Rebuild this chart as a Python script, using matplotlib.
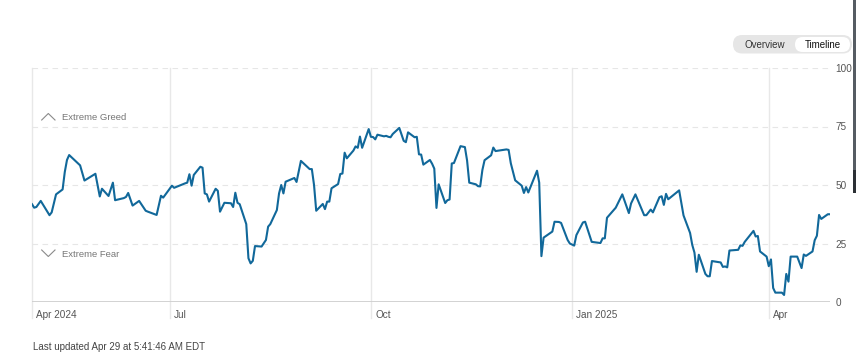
import pandas as pd
import numpy as np
import matplotlib
matplotlib.use('Agg')
import matplotlib.pyplot as plt
import matplotlib.dates as mdates
from matplotlib.patches import FancyBboxPatch, Rectangle
from matplotlib.lines import Line2D
import matplotlib.transforms as mtransforms

plt.rcParams['font.family'] = ['Liberation Sans', 'DejaVu Sans']

# fear & greed index
dates = ['2024-04-29', '2024-04-30', '2024-05-01', '2024-05-03', '2024-05-07', '2024-05-08', '2024-05-10',
         '2024-05-13', '2024-05-14', '2024-05-15', '2024-05-16', '2024-05-21', '2024-05-23', '2024-05-28',
         '2024-05-30', '2024-05-31', '2024-06-03', '2024-06-05', '2024-06-06', '2024-06-10', '2024-06-11',
         '2024-06-12', '2024-06-14', '2024-06-17', '2024-06-20', '2024-06-21', '2024-06-25', '2024-06-27',
         '2024-06-28', '2024-07-02', '2024-07-03', '2024-07-08', '2024-07-09', '2024-07-10', '2024-07-11',
         '2024-07-12', '2024-07-15', '2024-07-16', '2024-07-17', '2024-07-18', '2024-07-19', '2024-07-22',
         '2024-07-23', '2024-07-24', '2024-07-26', '2024-07-29', '2024-07-30', '2024-07-31', '2024-08-01',
         '2024-08-02', '2024-08-05', '2024-08-06', '2024-08-07', '2024-08-08', '2024-08-09', '2024-08-12',
         '2024-08-14', '2024-08-15', '2024-08-16', '2024-08-19', '2024-08-20', '2024-08-21', '2024-08-22',
         '2024-08-23', '2024-08-27', '2024-08-28', '2024-08-30', '2024-09-03', '2024-09-04', '2024-09-05',
         '2024-09-06', '2024-09-09', '2024-09-10', '2024-09-11', '2024-09-12', '2024-09-13', '2024-09-16',
         '2024-09-17', '2024-09-18', '2024-09-19', '2024-09-20', '2024-09-23', '2024-09-24', '2024-09-25',
         '2024-09-26', '2024-09-27', '2024-09-30', '2024-10-01', '2024-10-02', '2024-10-03', '2024-10-04',
         '2024-10-07', '2024-10-08', '2024-10-09', '2024-10-10', '2024-10-11', '2024-10-14', '2024-10-16',
         '2024-10-17', '2024-10-18', '2024-10-21', '2024-10-22', '2024-10-23', '2024-10-24', '2024-10-25',
         '2024-10-28', '2024-10-29', '2024-10-30', '2024-10-31', '2024-11-01', '2024-11-04', '2024-11-05',
         '2024-11-06', '2024-11-07', '2024-11-08', '2024-11-11', '2024-11-13', '2024-11-14', '2024-11-15',
         '2024-11-18', '2024-11-19', '2024-11-20', '2024-11-21', '2024-11-22', '2024-11-25', '2024-11-26',
         '2024-11-27', '2024-12-02', '2024-12-03', '2024-12-04', '2024-12-06', '2024-12-09', '2024-12-10',
         '2024-12-11', '2024-12-12', '2024-12-16', '2024-12-17', '2024-12-18', '2024-12-19', '2024-12-23',
         '2024-12-24', '2024-12-26', '2024-12-27', '2024-12-30', '2024-12-31', '2025-01-02', '2025-01-03',
         '2025-01-06', '2025-01-07', '2025-01-10', '2025-01-14', '2025-01-15', '2025-01-16', '2025-01-17',
         '2025-01-21', '2025-01-24', '2025-01-27', '2025-01-28', '2025-01-30', '2025-02-03', '2025-02-04',
         '2025-02-06', '2025-02-07', '2025-02-10', '2025-02-11', '2025-02-12', '2025-02-13', '2025-02-14',
         '2025-02-19', '2025-02-21', '2025-02-24', '2025-02-25', '2025-02-26', '2025-02-27', '2025-02-28',
         '2025-03-03', '2025-03-04', '2025-03-05', '2025-03-06', '2025-03-10', '2025-03-11', '2025-03-12',
         '2025-03-13', '2025-03-14', '2025-03-17', '2025-03-18', '2025-03-19', '2025-03-20', '2025-03-21',
         '2025-03-25', '2025-03-26', '2025-03-27', '2025-03-28', '2025-03-31', '2025-04-01', '2025-04-02',
         '2025-04-03', '2025-04-04', '2025-04-07', '2025-04-08', '2025-04-09', '2025-04-10', '2025-04-11',
         '2025-04-14', '2025-04-16', '2025-04-17', '2025-04-18', '2025-04-21', '2025-04-22', '2025-04-23',
         '2025-04-24', '2025-04-25', '2025-04-28', '2025-04-29']
index_values = [41.8, 40.3, 40.6, 43.2, 37.1, 38.3, 46.0,
                48.1, 55.6, 60.7, 62.8, 58.4, 51.9, 54.8,
                45.1, 48.4, 45.3, 51.0, 43.5, 44.4, 44.9,
                46.6, 41.2, 43.2, 39.0, 38.6, 37.2, 45.4,
                44.6, 49.7, 48.8, 50.7, 51.0, 54.6, 49.7,
                54.3, 57.8, 57.4, 46.4, 46.0, 42.9, 48.4,
                47.5, 38.6, 42.4, 42.2, 40.6, 46.7, 42.4,
                41.8, 33.3, 18.7, 16.5, 17.6, 23.9, 23.7,
                26.5, 32.2, 33.3, 39.3, 46.4, 50.0, 46.4,
                51.4, 53.0, 51.3, 60.3, 56.8, 56.8, 50.0,
                39.0, 41.9, 39.7, 42.9, 42.9, 48.6, 50.4,
                54.7, 54.9, 63.8, 61.4, 64.7, 66.5, 65.9,
                70.7, 65.9, 73.9, 70.6, 70.5, 69.5, 71.5,
                70.8, 71.0, 70.6, 70.4, 71.8, 74.4, 68.9,
                68.3, 72.5, 70.4, 70.6, 63.1, 63.0, 58.7,
                60.7, 59.1, 57.0, 40.2, 50.3, 42.3, 43.5,
                43.8, 59.2, 59.4, 66.6, 66.2, 60.5, 51.0,
                50.3, 49.5, 49.4, 56.4, 60.6, 62.7, 66.0,
                64.5, 65.2, 65.0, 59.3, 52.0, 49.7, 46.6,
                49.1, 46.8, 56.1, 51.0, 19.6, 27.5, 30.1,
                34.3, 34.2, 33.8, 26.5, 25.0, 24.1, 28.6,
                34.0, 34.3, 25.7, 25.2, 27.2, 27.2, 36.0,
                40.3, 46.0, 38.0, 42.1, 46.0, 37.1, 37.1,
                39.5, 38.3, 44.8, 45.2, 41.5, 46.2, 43.9,
                47.7, 37.0, 29.5, 24.4, 21.1, 12.9, 20.2,
                12.0, 11.0, 11.0, 17.5, 16.9, 15.0, 15.2,
                14.8, 22.0, 22.2, 22.3, 24.2, 24.0, 25.7,
                30.4, 28.0, 28.2, 21.6, 19.4, 15.3, 18.2,
                6.0, 4.0, 4.0, 3.0, 12.0, 8.7, 19.4,
                19.4, 14.5, 20.3, 19.7, 21.6, 26.4, 28.3,
                37.2, 35.5, 37.5, 37.5]

month_ticks = ['2024-04-29', '2024-07-01', '2024-10-01', '2025-01-01', '2025-04-01']
month_labels = ['Apr 2024', 'Jul', 'Oct', 'Jan 2025', 'Apr']
y_ticks = [0, 25, 50, 75, 100]

df = pd.DataFrame({'date': pd.to_datetime(dates), 'value': index_values})
tick_nums = mdates.date2num(pd.to_datetime(month_ticks).to_pydatetime())

W, H = 856, 362
fig = plt.figure(figsize=(W / 100, H / 100), dpi=100)
ax = fig.add_axes([32 / W, 1 - 302 / H, (830 - 32) / W, (302 - 68) / H])
ax.set_xlim(mdates.date2num(pd.Timestamp('2024-04-29')), mdates.date2num(pd.Timestamp('2025-04-29')))
ax.set_ylim(0, 100)

for s in ax.spines.values():
    s.set_visible(False)

# horizontal grid
for v in y_ticks[1:]:
    ax.axhline(v, color='#e6e6e6', lw=0.8, ls=(0, (5, 4)), zorder=1)
ax.axhline(0, color='#cfcfcf', lw=1.3, zorder=1)

# vertical month lines, running past the baseline
trans = mtransforms.blended_transform_factory(ax.transData, ax.transAxes)
for d, lab in zip(tick_nums, month_labels):
    ax.plot([d, d], [1, -0.07], transform=trans, color='#e8e8e8', lw=1.0,
            clip_on=False, zorder=0)
    ax.annotate(lab, xy=(d, -0.057), xycoords=trans, xytext=(3, 0),
                textcoords='offset points', ha='left', va='center',
                fontsize=7.2, color='#555555', annotation_clip=False)

ax.plot(mdates.date2num(df['date'].dt.to_pydatetime()), df['value'], color='#11689a', lw=1.5, zorder=3,
        solid_joinstyle='round')

ax.set_xticks([])
ax.yaxis.tick_right()
ax.set_yticks(y_ticks)
ax.set_yticklabels([str(v) for v in y_ticks])
ax.tick_params(axis='y', length=0, pad=4, labelsize=7.2, labelcolor='#555555')

lab_trans = mtransforms.blended_transform_factory(ax.transAxes, ax.transData)
ax.text(0.0376, 79, 'Extreme Greed', transform=lab_trans,
        fontsize=6.8, color='#777777', va='center', ha='left')
ax.text(0.0376, 20.3, 'Extreme Fear', transform=lab_trans,
        fontsize=6.8, color='#777777', va='center', ha='left')

# overlay in pixel space for chevrons, toggle and footer
ov = fig.add_axes([0, 0, 1, 1], facecolor='none')
ov.set_xlim(0, W)
ov.set_ylim(H, 0)
ov.axis('off')

ov.add_line(Line2D([41.7, 48.3, 55], [120, 113.5, 120], color='#8a8a8a', lw=0.8))
ov.add_line(Line2D([41.7, 48.3, 55], [250, 256.5, 250], color='#8a8a8a', lw=0.8))

ov.add_patch(FancyBboxPatch((733, 35), 119, 18.5, boxstyle='round,pad=0,rounding_size=9.2',
                            fc='#e6e6e6', ec='none'))
ov.add_patch(FancyBboxPatch((795, 37), 55, 15, boxstyle='round,pad=0,rounding_size=7.5',
                            fc='white', ec='none'))
ov.text(765, 44.5, 'Overview', fontsize=7, color='#333333', ha='center', va='center')
ov.text(822.5, 44.5, 'Timeline', fontsize=7, color='#111111', ha='center', va='center')

# edge of the neighbouring panel in the screenshot
ov.add_patch(Rectangle((853.3, 0), 2.7, 170, fc='#565c63', ec='none'))
ov.add_patch(Rectangle((853.3, 170), 2.7, 23, fc='#2c3035', ec='none'))

ov.text(33, 347, 'Last updated Apr 29 at 5:41:46 AM EDT', fontsize=7, color='#444444',
        ha='left', va='center')

fig.savefig('out.png', dpi=100)
